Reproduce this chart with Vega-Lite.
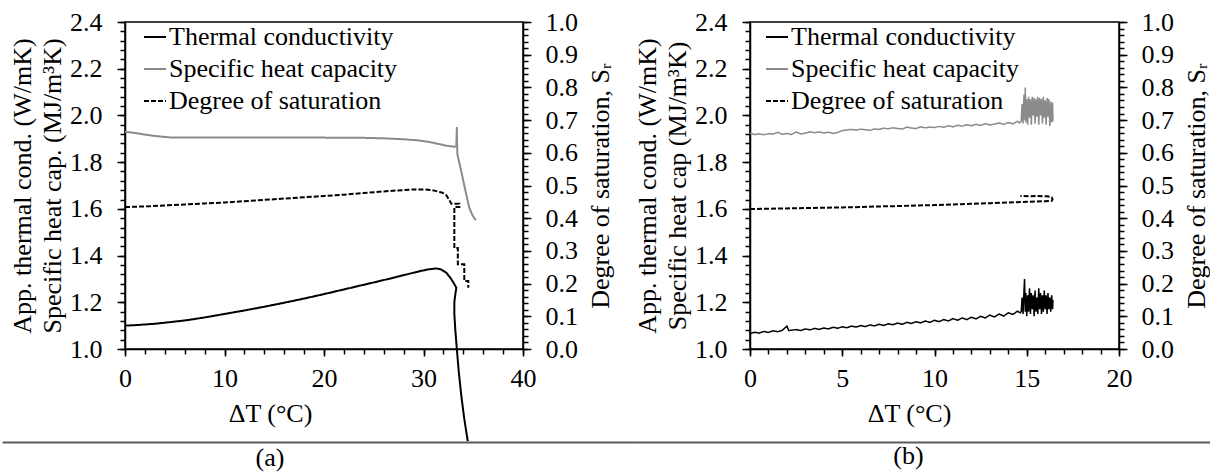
{
"$schema": "https://vega.github.io/schema/vega-lite/v6.json",
"padding": {"left": 0, "top": 8, "right": 0, "bottom": 0},
"background": "white",
"config": {
  "font": "Liberation Serif, Times New Roman, DejaVu Serif, serif",
  "view": {"stroke": "black", "strokeWidth": 1.5},
  "axis": {"labelFont": "Liberation Serif, Times New Roman, DejaVu Serif, serif", "labelFontSize": 26, "labelColor": "black", "titleFont": "Liberation Serif, Times New Roman, DejaVu Serif, serif", "titleFontSize": 26, "titleFontWeight": "normal", "titleColor": "black", "domainColor": "black", "domainWidth": 1.5, "tickColor": "black", "tickWidth": 1.5, "grid": false, "labelOverlap": false, "labelFlush": false, "titleLineHeight": 30},
  "legend": {"title": null, "symbolType": "stroke", "symbolSize": 484, "symbolStrokeWidth": 2, "labelFont": "Liberation Serif, Times New Roman, DejaVu Serif, serif", "labelFontSize": 26, "labelColor": "black", "labelOffset": 1, "rowPadding": 6, "padding": 0, "labelLimit": 400},
  "title": {"font": "Liberation Serif, Times New Roman, DejaVu Serif, serif", "fontSize": 26, "fontWeight": "normal", "color": "black"}
},
"datasets": {
  "a": [
    {"s":"Thermal conductivity","x":0,"y":1.100},{"s":"Thermal conductivity","x":1,"y":1.102},{"s":"Thermal conductivity","x":2,"y":1.105},{"s":"Thermal conductivity","x":3,"y":1.108},{"s":"Thermal conductivity","x":4.5,"y":1.115},{"s":"Thermal conductivity","x":6,"y":1.122},{"s":"Thermal conductivity","x":8,"y":1.135},{"s":"Thermal conductivity","x":10,"y":1.150},{"s":"Thermal conductivity","x":12,"y":1.165},{"s":"Thermal conductivity","x":14,"y":1.181},{"s":"Thermal conductivity","x":16,"y":1.198},{"s":"Thermal conductivity","x":18,"y":1.216},{"s":"Thermal conductivity","x":20,"y":1.235},{"s":"Thermal conductivity","x":22,"y":1.255},{"s":"Thermal conductivity","x":24,"y":1.275},{"s":"Thermal conductivity","x":26,"y":1.295},{"s":"Thermal conductivity","x":28,"y":1.316},{"s":"Thermal conductivity","x":29.5,"y":1.332},{"s":"Thermal conductivity","x":30.5,"y":1.341},{"s":"Thermal conductivity","x":31.3,"y":1.345},{"s":"Thermal conductivity","x":31.8,"y":1.340},{"s":"Thermal conductivity","x":32.3,"y":1.326},{"s":"Thermal conductivity","x":32.7,"y":1.305},{"s":"Thermal conductivity","x":33.0,"y":1.285},{"s":"Thermal conductivity","x":33.3,"y":1.262},{"s":"Thermal conductivity","x":33.2,"y":1.235},{"s":"Thermal conductivity","x":33.1,"y":1.20},{"s":"Thermal conductivity","x":33.1,"y":1.15},{"s":"Thermal conductivity","x":33.2,"y":1.08},{"s":"Thermal conductivity","x":33.35,"y":1.0},{"s":"Thermal conductivity","x":33.55,"y":0.90},{"s":"Thermal conductivity","x":33.8,"y":0.80},{"s":"Thermal conductivity","x":34.1,"y":0.70},{"s":"Thermal conductivity","x":34.45,"y":0.605},
    {"s":"Specific heat capacity","x":0,"y":1.930},{"s":"Specific heat capacity","x":1,"y":1.925},{"s":"Specific heat capacity","x":2,"y":1.918},{"s":"Specific heat capacity","x":3,"y":1.912},{"s":"Specific heat capacity","x":4.5,"y":1.906},{"s":"Specific heat capacity","x":8,"y":1.905},{"s":"Specific heat capacity","x":12,"y":1.905},{"s":"Specific heat capacity","x":16,"y":1.905},{"s":"Specific heat capacity","x":20,"y":1.905},{"s":"Specific heat capacity","x":24,"y":1.904},{"s":"Specific heat capacity","x":26,"y":1.902},{"s":"Specific heat capacity","x":28,"y":1.898},{"s":"Specific heat capacity","x":29.5,"y":1.893},{"s":"Specific heat capacity","x":30.5,"y":1.887},{"s":"Specific heat capacity","x":31.5,"y":1.878},{"s":"Specific heat capacity","x":32.3,"y":1.870},{"s":"Specific heat capacity","x":33.1,"y":1.866},{"s":"Specific heat capacity","x":33.3,"y":1.868},{"s":"Specific heat capacity","x":33.35,"y":1.95},{"s":"Specific heat capacity","x":33.4,"y":1.835},{"s":"Specific heat capacity","x":33.8,"y":1.76},{"s":"Specific heat capacity","x":34.2,"y":1.68},{"s":"Specific heat capacity","x":34.6,"y":1.605},{"s":"Specific heat capacity","x":34.9,"y":1.575},{"s":"Specific heat capacity","x":35.1,"y":1.56},{"s":"Specific heat capacity","x":35.26,"y":1.552},
    {"s":"Degree of saturation","x":0,"y":0.434},{"s":"Degree of saturation","x":2,"y":0.436},{"s":"Degree of saturation","x":4,"y":0.439},{"s":"Degree of saturation","x":6,"y":0.442},{"s":"Degree of saturation","x":8,"y":0.445},{"s":"Degree of saturation","x":10,"y":0.448},{"s":"Degree of saturation","x":12,"y":0.452},{"s":"Degree of saturation","x":14,"y":0.456},{"s":"Degree of saturation","x":16,"y":0.460},{"s":"Degree of saturation","x":18,"y":0.464},{"s":"Degree of saturation","x":20,"y":0.468},{"s":"Degree of saturation","x":22,"y":0.472},{"s":"Degree of saturation","x":24,"y":0.477},{"s":"Degree of saturation","x":26,"y":0.482},{"s":"Degree of saturation","x":28,"y":0.486},{"s":"Degree of saturation","x":29,"y":0.488},{"s":"Degree of saturation","x":30,"y":0.488},{"s":"Degree of saturation","x":31,"y":0.485},{"s":"Degree of saturation","x":31.9,"y":0.478},{"s":"Degree of saturation","x":32.3,"y":0.470},{"s":"Degree of saturation","x":32.6,"y":0.455},{"s":"Degree of saturation","x":32.8,"y":0.444},{"s":"Degree of saturation","x":33.6,"y":0.444},{"s":"Degree of saturation","x":33.6,"y":0.434},{"s":"Degree of saturation","x":33.1,"y":0.434},{"s":"Degree of saturation","x":33.1,"y":0.309},{"s":"Degree of saturation","x":33.45,"y":0.309},{"s":"Degree of saturation","x":33.45,"y":0.259},{"s":"Degree of saturation","x":34.1,"y":0.259},{"s":"Degree of saturation","x":34.1,"y":0.208},{"s":"Degree of saturation","x":34.5,"y":0.208},{"s":"Degree of saturation","x":34.5,"y":0.187}
  ],
  "b": [
    {"s":"Thermal conductivity","x":0,"y":1.065},{"s":"Thermal conductivity","x":0.25,"y":1.072},{"s":"Thermal conductivity","x":0.5,"y":1.068},{"s":"Thermal conductivity","x":0.75,"y":1.075},{"s":"Thermal conductivity","x":1.0,"y":1.071},{"s":"Thermal conductivity","x":1.25,"y":1.078},{"s":"Thermal conductivity","x":1.5,"y":1.074},{"s":"Thermal conductivity","x":1.75,"y":1.080},{"s":"Thermal conductivity","x":2.0,"y":1.098},{"s":"Thermal conductivity","x":2.1,"y":1.079},{"s":"Thermal conductivity","x":2.5,"y":1.083},{"s":"Thermal conductivity","x":2.75,"y":1.079},{"s":"Thermal conductivity","x":3.0,"y":1.086},{"s":"Thermal conductivity","x":3.25,"y":1.082},{"s":"Thermal conductivity","x":3.5,"y":1.088},{"s":"Thermal conductivity","x":3.75,"y":1.084},{"s":"Thermal conductivity","x":4.0,"y":1.090},{"s":"Thermal conductivity","x":4.25,"y":1.086},{"s":"Thermal conductivity","x":4.5,"y":1.093},{"s":"Thermal conductivity","x":4.75,"y":1.089},{"s":"Thermal conductivity","x":5.0,"y":1.095},{"s":"Thermal conductivity","x":5.25,"y":1.091},{"s":"Thermal conductivity","x":5.5,"y":1.098},{"s":"Thermal conductivity","x":5.75,"y":1.094},{"s":"Thermal conductivity","x":6.0,"y":1.100},{"s":"Thermal conductivity","x":6.25,"y":1.096},{"s":"Thermal conductivity","x":6.5,"y":1.103},{"s":"Thermal conductivity","x":6.75,"y":1.099},{"s":"Thermal conductivity","x":7.0,"y":1.106},{"s":"Thermal conductivity","x":7.25,"y":1.101},{"s":"Thermal conductivity","x":7.5,"y":1.108},{"s":"Thermal conductivity","x":7.75,"y":1.104},{"s":"Thermal conductivity","x":8.0,"y":1.111},{"s":"Thermal conductivity","x":8.25,"y":1.106},{"s":"Thermal conductivity","x":8.5,"y":1.114},{"s":"Thermal conductivity","x":8.75,"y":1.109},{"s":"Thermal conductivity","x":9.0,"y":1.117},{"s":"Thermal conductivity","x":9.25,"y":1.112},{"s":"Thermal conductivity","x":9.5,"y":1.120},{"s":"Thermal conductivity","x":9.75,"y":1.114},{"s":"Thermal conductivity","x":10.0,"y":1.123},{"s":"Thermal conductivity","x":10.25,"y":1.117},{"s":"Thermal conductivity","x":10.5,"y":1.126},{"s":"Thermal conductivity","x":10.75,"y":1.120},{"s":"Thermal conductivity","x":11.0,"y":1.130},{"s":"Thermal conductivity","x":11.25,"y":1.123},{"s":"Thermal conductivity","x":11.5,"y":1.133},{"s":"Thermal conductivity","x":11.75,"y":1.126},{"s":"Thermal conductivity","x":12.0,"y":1.136},{"s":"Thermal conductivity","x":12.25,"y":1.129},{"s":"Thermal conductivity","x":12.5,"y":1.140},{"s":"Thermal conductivity","x":12.75,"y":1.133},{"s":"Thermal conductivity","x":13.0,"y":1.145},{"s":"Thermal conductivity","x":13.25,"y":1.137},{"s":"Thermal conductivity","x":13.5,"y":1.150},{"s":"Thermal conductivity","x":13.75,"y":1.141},{"s":"Thermal conductivity","x":14.0,"y":1.155},{"s":"Thermal conductivity","x":14.25,"y":1.148},{"s":"Thermal conductivity","x":14.5,"y":1.162},{"s":"Thermal conductivity","x":14.65,"y":1.155},
    {"s":"Thermal conductivity","x":14.70,"y":1.16},{"s":"Thermal conductivity","x":14.75,"y":1.22},{"s":"Thermal conductivity","x":14.80,"y":1.15},{"s":"Thermal conductivity","x":14.85,"y":1.25},{"s":"Thermal conductivity","x":14.88,"y":1.30},{"s":"Thermal conductivity","x":14.92,"y":1.16},{"s":"Thermal conductivity","x":14.95,"y":1.24},{"s":"Thermal conductivity","x":15.00,"y":1.14},{"s":"Thermal conductivity","x":15.05,"y":1.23},{"s":"Thermal conductivity","x":15.10,"y":1.16},{"s":"Thermal conductivity","x":15.15,"y":1.26},{"s":"Thermal conductivity","x":15.20,"y":1.15},{"s":"Thermal conductivity","x":15.25,"y":1.24},{"s":"Thermal conductivity","x":15.30,"y":1.17},{"s":"Thermal conductivity","x":15.35,"y":1.23},{"s":"Thermal conductivity","x":15.40,"y":1.14},{"s":"Thermal conductivity","x":15.45,"y":1.25},{"s":"Thermal conductivity","x":15.50,"y":1.16},{"s":"Thermal conductivity","x":15.55,"y":1.22},{"s":"Thermal conductivity","x":15.60,"y":1.15},{"s":"Thermal conductivity","x":15.65,"y":1.26},{"s":"Thermal conductivity","x":15.70,"y":1.17},{"s":"Thermal conductivity","x":15.75,"y":1.24},{"s":"Thermal conductivity","x":15.80,"y":1.15},{"s":"Thermal conductivity","x":15.85,"y":1.23},{"s":"Thermal conductivity","x":15.90,"y":1.16},{"s":"Thermal conductivity","x":15.95,"y":1.25},{"s":"Thermal conductivity","x":16.00,"y":1.17},{"s":"Thermal conductivity","x":16.05,"y":1.23},{"s":"Thermal conductivity","x":16.10,"y":1.15},{"s":"Thermal conductivity","x":16.15,"y":1.24},{"s":"Thermal conductivity","x":16.20,"y":1.17},{"s":"Thermal conductivity","x":16.25,"y":1.22},{"s":"Thermal conductivity","x":16.30,"y":1.16},{"s":"Thermal conductivity","x":16.35,"y":1.23},{"s":"Thermal conductivity","x":16.40,"y":1.17},{"s":"Thermal conductivity","x":16.42,"y":1.21},
    {"s":"Specific heat capacity","x":0,"y":1.925},{"s":"Specific heat capacity","x":0.25,"y":1.918},{"s":"Specific heat capacity","x":0.5,"y":1.921},{"s":"Specific heat capacity","x":0.75,"y":1.917},{"s":"Specific heat capacity","x":1.0,"y":1.922},{"s":"Specific heat capacity","x":1.25,"y":1.920},{"s":"Specific heat capacity","x":1.5,"y":1.928},{"s":"Specific heat capacity","x":1.75,"y":1.919},{"s":"Specific heat capacity","x":2.0,"y":1.923},{"s":"Specific heat capacity","x":2.25,"y":1.918},{"s":"Specific heat capacity","x":2.5,"y":1.929},{"s":"Specific heat capacity","x":2.75,"y":1.921},{"s":"Specific heat capacity","x":3.0,"y":1.924},{"s":"Specific heat capacity","x":3.25,"y":1.930},{"s":"Specific heat capacity","x":3.5,"y":1.926},{"s":"Specific heat capacity","x":3.75,"y":1.929},{"s":"Specific heat capacity","x":4.0,"y":1.925},{"s":"Specific heat capacity","x":4.25,"y":1.928},{"s":"Specific heat capacity","x":4.5,"y":1.923},{"s":"Specific heat capacity","x":4.75,"y":1.927},{"s":"Specific heat capacity","x":5.0,"y":1.935},{"s":"Specific heat capacity","x":5.25,"y":1.938},{"s":"Specific heat capacity","x":5.5,"y":1.940},{"s":"Specific heat capacity","x":5.75,"y":1.937},{"s":"Specific heat capacity","x":6.0,"y":1.941},{"s":"Specific heat capacity","x":6.25,"y":1.939},{"s":"Specific heat capacity","x":6.5,"y":1.936},{"s":"Specific heat capacity","x":6.75,"y":1.942},{"s":"Specific heat capacity","x":7.0,"y":1.940},{"s":"Specific heat capacity","x":7.25,"y":1.945},{"s":"Specific heat capacity","x":7.5,"y":1.943},{"s":"Specific heat capacity","x":7.75,"y":1.947},{"s":"Specific heat capacity","x":8.0,"y":1.944},{"s":"Specific heat capacity","x":8.25,"y":1.942},{"s":"Specific heat capacity","x":8.5,"y":1.950},{"s":"Specific heat capacity","x":8.75,"y":1.946},{"s":"Specific heat capacity","x":9.0,"y":1.944},{"s":"Specific heat capacity","x":9.25,"y":1.951},{"s":"Specific heat capacity","x":9.5,"y":1.947},{"s":"Specific heat capacity","x":9.75,"y":1.950},{"s":"Specific heat capacity","x":10.0,"y":1.948},{"s":"Specific heat capacity","x":10.25,"y":1.953},{"s":"Specific heat capacity","x":10.5,"y":1.949},{"s":"Specific heat capacity","x":10.75,"y":1.956},{"s":"Specific heat capacity","x":11.0,"y":1.951},{"s":"Specific heat capacity","x":11.25,"y":1.958},{"s":"Specific heat capacity","x":11.5,"y":1.954},{"s":"Specific heat capacity","x":11.75,"y":1.960},{"s":"Specific heat capacity","x":12.0,"y":1.956},{"s":"Specific heat capacity","x":12.25,"y":1.962},{"s":"Specific heat capacity","x":12.5,"y":1.957},{"s":"Specific heat capacity","x":12.75,"y":1.965},{"s":"Specific heat capacity","x":13.0,"y":1.959},{"s":"Specific heat capacity","x":13.25,"y":1.963},{"s":"Specific heat capacity","x":13.5,"y":1.968},{"s":"Specific heat capacity","x":13.75,"y":1.961},{"s":"Specific heat capacity","x":14.0,"y":1.970},{"s":"Specific heat capacity","x":14.25,"y":1.964},{"s":"Specific heat capacity","x":14.5,"y":1.975},{"s":"Specific heat capacity","x":14.6,"y":1.968},
    {"s":"Specific heat capacity","x":14.70,"y":1.975},{"s":"Specific heat capacity","x":14.75,"y":2.05},{"s":"Specific heat capacity","x":14.80,"y":1.965},{"s":"Specific heat capacity","x":14.85,"y":2.09},{"s":"Specific heat capacity","x":14.90,"y":1.98},{"s":"Specific heat capacity","x":14.92,"y":2.12},{"s":"Specific heat capacity","x":14.95,"y":1.97},{"s":"Specific heat capacity","x":15.00,"y":2.07},{"s":"Specific heat capacity","x":15.05,"y":1.96},{"s":"Specific heat capacity","x":15.10,"y":2.08},{"s":"Specific heat capacity","x":15.15,"y":1.99},{"s":"Specific heat capacity","x":15.20,"y":2.07},{"s":"Specific heat capacity","x":15.25,"y":1.96},{"s":"Specific heat capacity","x":15.30,"y":2.08},{"s":"Specific heat capacity","x":15.35,"y":2.00},{"s":"Specific heat capacity","x":15.40,"y":2.075},{"s":"Specific heat capacity","x":15.45,"y":1.965},{"s":"Specific heat capacity","x":15.50,"y":2.07},{"s":"Specific heat capacity","x":15.55,"y":1.995},{"s":"Specific heat capacity","x":15.60,"y":2.08},{"s":"Specific heat capacity","x":15.65,"y":1.96},{"s":"Specific heat capacity","x":15.70,"y":2.075},{"s":"Specific heat capacity","x":15.75,"y":2.00},{"s":"Specific heat capacity","x":15.80,"y":2.07},{"s":"Specific heat capacity","x":15.85,"y":1.965},{"s":"Specific heat capacity","x":15.90,"y":2.08},{"s":"Specific heat capacity","x":15.95,"y":1.99},{"s":"Specific heat capacity","x":16.00,"y":2.065},{"s":"Specific heat capacity","x":16.05,"y":1.96},{"s":"Specific heat capacity","x":16.10,"y":2.075},{"s":"Specific heat capacity","x":16.15,"y":1.995},{"s":"Specific heat capacity","x":16.20,"y":2.07},{"s":"Specific heat capacity","x":16.25,"y":1.955},{"s":"Specific heat capacity","x":16.30,"y":2.06},{"s":"Specific heat capacity","x":16.35,"y":1.97},{"s":"Specific heat capacity","x":16.40,"y":2.055},{"s":"Specific heat capacity","x":16.42,"y":1.975},
    {"s":"Degree of saturation","x":0,"y":0.428},{"s":"Degree of saturation","x":1,"y":0.429},{"s":"Degree of saturation","x":2,"y":0.430},{"s":"Degree of saturation","x":3,"y":0.431},{"s":"Degree of saturation","x":4,"y":0.432},{"s":"Degree of saturation","x":5,"y":0.433},{"s":"Degree of saturation","x":6,"y":0.434},{"s":"Degree of saturation","x":7,"y":0.436},{"s":"Degree of saturation","x":8,"y":0.437},{"s":"Degree of saturation","x":9,"y":0.439},{"s":"Degree of saturation","x":10,"y":0.440},{"s":"Degree of saturation","x":11,"y":0.442},{"s":"Degree of saturation","x":12,"y":0.444},{"s":"Degree of saturation","x":13,"y":0.446},{"s":"Degree of saturation","x":14,"y":0.448},{"s":"Degree of saturation","x":15,"y":0.450},{"s":"Degree of saturation","x":16,"y":0.452},{"s":"Degree of saturation","x":16.35,"y":0.453},{"s":"Degree of saturation","x":16.4,"y":0.458},{"s":"Degree of saturation","x":16.35,"y":0.464},{"s":"Degree of saturation","x":16.1,"y":0.467},{"s":"Degree of saturation","x":15.6,"y":0.468},{"s":"Degree of saturation","x":15.2,"y":0.467},{"s":"Degree of saturation","x":14.65,"y":0.468}
  ]
},
"bounds": "flush",
"spacing": 227,
"resolve": {"scale": {"color": "independent", "strokeDash": "independent"}},
"hconcat": [
  {
    "width": 398, "height": 327,
    "title": {"text": "(a)", "orient": "bottom", "anchor": "middle", "frame": "group", "offset": 0, "dx": -54},
    "resolve": {"scale": {"x": "independent", "y": "independent"}},
    "layer": [
      {
        "data": {"name": "a"},
        "transform": [{"filter": "datum.s !== 'Degree of saturation'"}],
        "mark": {"type": "line", "strokeWidth": 2},
        "encoding": {
          "x": {"field": "x", "type": "quantitative", "scale": {"domain": [0, 40]}, "axis": {"orient": "bottom", "values": [0, 10, 20, 30, 40], "tickSize": 7, "labelPadding": 9, "title": "ΔT (°C)", "titlePadding": 9, "titleX": 145}},
          "y": {"field": "y", "type": "quantitative", "scale": {"domain": [1, 2.4]}, "axis": {"orient": "left", "values": [1.0, 1.2, 1.4, 1.6, 1.8, 2.0, 2.2, 2.4], "format": ".1f", "tickSize": 8, "labelPadding": 15, "title": ["App. thermal cond. (W/mK)", "Specific heat cap. (MJ/m³K)"], "titlePadding": 4}},
          "color": {"field": "s", "type": "nominal", "scale": {"domain": ["Thermal conductivity", "Specific heat capacity", "Degree of saturation"], "range": ["#000000", "#8a8a8a", "#000000"]}, "legend": {"orient": "none", "legendX": 17, "legendY": 2, "title": null}},
          "strokeDash": {"field": "s", "type": "nominal", "scale": {"domain": ["Thermal conductivity", "Specific heat capacity", "Degree of saturation"], "range": [[1, 0], [1, 0], [5, 2]]}, "legend": {"orient": "none", "legendX": 17, "legendY": 2, "title": null}},
          "order": {"value": null}
        }
      },
      {
        "data": {"name": "a"},
        "transform": [{"filter": "datum.s === 'Degree of saturation'"}],
        "mark": {"type": "line", "strokeWidth": 2},
        "encoding": {
          "x": {"field": "x", "type": "quantitative", "scale": {"domain": [0, 40]}, "axis": null},
          "y": {"field": "y", "type": "quantitative", "scale": {"domain": [0, 1]}, "axis": {"orient": "right", "values": [0, 0.1, 0.2, 0.3, 0.4, 0.5, 0.6, 0.7, 0.8, 0.9, 1.0], "format": ".1f", "tickSize": 8, "labelPadding": 14, "title": "Degree of saturation, Sᵣ", "titleAngle": 270, "titleBaseline": "top", "titlePadding": 10}},
          "color": {"field": "s", "type": "nominal", "scale": {"domain": ["Thermal conductivity", "Specific heat capacity", "Degree of saturation"], "range": ["#000000", "#8a8a8a", "#000000"]}, "legend": {"orient": "none", "legendX": 17, "legendY": 2, "title": null}},
          "strokeDash": {"field": "s", "type": "nominal", "scale": {"domain": ["Thermal conductivity", "Specific heat capacity", "Degree of saturation"], "range": [[1, 0], [1, 0], [5, 2]]}, "legend": {"orient": "none", "legendX": 17, "legendY": 2, "title": null}},
          "order": {"value": null}
        }
      },
      {
        "data": {"values": [{}]},
        "mark": {"type": "point", "opacity": 0},
        "encoding": {
          "x": {"datum": 10, "type": "quantitative", "scale": {"domain": [0, 40]}, "axis": {"orient": "bottom", "values": [0,2,4,6,8,10,12,14,16,18,20,22,24,26,28,30,32,34,36,38,40], "tickSize": 5, "labels": false, "domain": false, "title": null}},
          "y": {"datum": 1.5, "type": "quantitative", "scale": {"domain": [1, 2.4]}, "axis": {"orient": "left", "values": [1.0,1.04,1.08,1.12,1.16,1.2,1.24,1.28,1.32,1.36,1.4,1.44,1.48,1.52,1.56,1.6,1.64,1.68,1.72,1.76,1.8,1.84,1.88,1.92,1.96,2.0,2.04,2.08,2.12,2.16,2.2,2.24,2.28,2.32,2.36,2.4], "tickSize": 5, "labels": false, "domain": false, "title": null}}
        }
      },
      {
        "data": {"values": [{}]},
        "mark": {"type": "point", "opacity": 0},
        "encoding": {
          "x": {"datum": 10, "type": "quantitative", "scale": {"domain": [0, 40]}, "axis": null},
          "y": {"datum": 0.5, "type": "quantitative", "scale": {"domain": [0, 1]}, "axis": {"orient": "right", "values": [0,0.02,0.04,0.06,0.08,0.1,0.12,0.14,0.16,0.18,0.2,0.22,0.24,0.26,0.28,0.3,0.32,0.34,0.36,0.38,0.4,0.42,0.44,0.46,0.48,0.5,0.52,0.54,0.56,0.58,0.6,0.62,0.64,0.66,0.68,0.7,0.72,0.74,0.76,0.78,0.8,0.82,0.84,0.86,0.88,0.9,0.92,0.94,0.96,0.98,1.0], "tickSize": 5, "labels": false, "domain": false, "title": null}}
        }
      },
      {
        "data": {"values": [{}]},
        "mark": {"type": "rule", "color": "#5a5a5a", "strokeWidth": 2},
        "encoding": {
          "x": {"datum": -12.3, "type": "quantitative", "scale": {"domain": [0, 40]}, "axis": null},
          "x2": {"datum": 51.46},
          "y": {"datum": 0.6, "type": "quantitative", "scale": {"domain": [1, 2.4]}, "axis": null}
        }
      }
    ]
  },
  {
    "width": 369, "height": 327,
    "title": {"text": "(b)", "orient": "bottom", "anchor": "middle", "frame": "group", "offset": 0, "dx": -26},
    "resolve": {"scale": {"x": "independent", "y": "independent"}},
    "layer": [
      {
        "data": {"name": "b"},
        "transform": [{"filter": "datum.s !== 'Degree of saturation'"}],
        "mark": {"type": "line", "strokeWidth": 1.5},
        "encoding": {
          "x": {"field": "x", "type": "quantitative", "scale": {"domain": [0, 20]}, "axis": {"orient": "bottom", "values": [0, 5, 10, 15, 20], "tickSize": 7, "labelPadding": 9, "title": "ΔT (°C)", "titlePadding": 9, "titleX": 159}},
          "y": {"field": "y", "type": "quantitative", "scale": {"domain": [1, 2.4]}, "axis": {"orient": "left", "values": [1.0, 1.2, 1.4, 1.6, 1.8, 2.0, 2.2, 2.4], "format": ".1f", "tickSize": 8, "labelPadding": 15, "title": ["App. thermal cond. (W/mK)", "Specific heat cap (MJ/m³K)"], "titlePadding": 4}},
          "color": {"field": "s", "type": "nominal", "scale": {"domain": ["Thermal conductivity", "Specific heat capacity", "Degree of saturation"], "range": ["#000000", "#8a8a8a", "#000000"]}, "legend": {"orient": "none", "legendX": 14, "legendY": 2, "title": null}},
          "strokeDash": {"field": "s", "type": "nominal", "scale": {"domain": ["Thermal conductivity", "Specific heat capacity", "Degree of saturation"], "range": [[1, 0], [1, 0], [5, 2]]}, "legend": {"orient": "none", "legendX": 14, "legendY": 2, "title": null}},
          "order": {"value": null}
        }
      },
      {
        "data": {"name": "b"},
        "transform": [{"filter": "datum.s === 'Degree of saturation'"}],
        "mark": {"type": "line", "strokeWidth": 2},
        "encoding": {
          "x": {"field": "x", "type": "quantitative", "scale": {"domain": [0, 20]}, "axis": null},
          "y": {"field": "y", "type": "quantitative", "scale": {"domain": [0, 1]}, "axis": {"orient": "right", "values": [0, 0.1, 0.2, 0.3, 0.4, 0.5, 0.6, 0.7, 0.8, 0.9, 1.0], "format": ".1f", "tickSize": 8, "labelPadding": 14, "title": "Degree of saturation, Sᵣ", "titleAngle": 270, "titleBaseline": "top", "titlePadding": 10}},
          "color": {"field": "s", "type": "nominal", "scale": {"domain": ["Thermal conductivity", "Specific heat capacity", "Degree of saturation"], "range": ["#000000", "#8a8a8a", "#000000"]}, "legend": {"orient": "none", "legendX": 14, "legendY": 2, "title": null}},
          "strokeDash": {"field": "s", "type": "nominal", "scale": {"domain": ["Thermal conductivity", "Specific heat capacity", "Degree of saturation"], "range": [[1, 0], [1, 0], [5, 2]]}, "legend": {"orient": "none", "legendX": 14, "legendY": 2, "title": null}},
          "order": {"value": null}
        }
      },
      {
        "data": {"values": [{}]},
        "mark": {"type": "point", "opacity": 0},
        "encoding": {
          "x": {"datum": 10, "type": "quantitative", "scale": {"domain": [0, 20]}, "axis": {"orient": "bottom", "values": [0,1,2,3,4,5,6,7,8,9,10,11,12,13,14,15,16,17,18,19,20], "tickSize": 5, "labels": false, "domain": false, "title": null}},
          "y": {"datum": 1.5, "type": "quantitative", "scale": {"domain": [1, 2.4]}, "axis": {"orient": "left", "values": [1.0,1.04,1.08,1.12,1.16,1.2,1.24,1.28,1.32,1.36,1.4,1.44,1.48,1.52,1.56,1.6,1.64,1.68,1.72,1.76,1.8,1.84,1.88,1.92,1.96,2.0,2.04,2.08,2.12,2.16,2.2,2.24,2.28,2.32,2.36,2.4], "tickSize": 5, "labels": false, "domain": false, "title": null}}
        }
      },
      {
        "data": {"values": [{}]},
        "mark": {"type": "point", "opacity": 0},
        "encoding": {
          "x": {"datum": 10, "type": "quantitative", "scale": {"domain": [0, 20]}, "axis": null},
          "y": {"datum": 0.5, "type": "quantitative", "scale": {"domain": [0, 1]}, "axis": {"orient": "right", "values": [0,0.02,0.04,0.06,0.08,0.1,0.12,0.14,0.16,0.18,0.2,0.22,0.24,0.26,0.28,0.3,0.32,0.34,0.36,0.38,0.4,0.42,0.44,0.46,0.48,0.5,0.52,0.54,0.56,0.58,0.6,0.62,0.64,0.66,0.68,0.7,0.72,0.74,0.76,0.78,0.8,0.82,0.84,0.86,0.88,0.9,0.92,0.94,0.96,0.98,1.0], "tickSize": 5, "labels": false, "domain": false, "title": null}}
        }
      },
      {
        "data": {"values": [{}]},
        "mark": {"type": "rule", "color": "#5a5a5a", "strokeWidth": 2},
        "encoding": {
          "x": {"datum": -6.12, "type": "quantitative", "scale": {"domain": [0, 20]}, "axis": null},
          "x2": {"datum": 25.04},
          "y": {"datum": 0.6, "type": "quantitative", "scale": {"domain": [1, 2.4]}, "axis": null}
        }
      }
    ]
  }
]
}
